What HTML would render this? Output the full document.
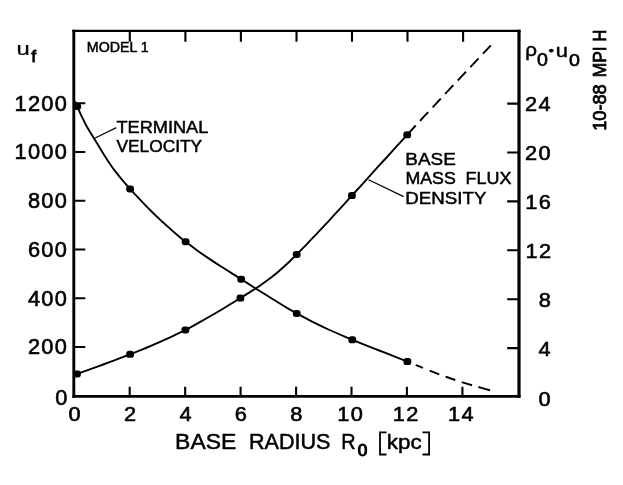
<!DOCTYPE html>
<html><head><meta charset="utf-8"><title>chart</title>
<style>
html,body{margin:0;padding:0;background:#fff;}
svg{display:block;will-change:transform;}
path{fill:none;stroke:#000;}
text{font-family:"Liberation Sans",sans-serif;fill:#000;stroke:#000;stroke-width:0.5px;vector-effect:non-scaling-stroke;stroke-linejoin:round;}
</style></head>
<body>
<svg width="623" height="485" viewBox="0 0 623 485">
<rect width="623" height="485" fill="#fff"/>
<g>
<path d="M73.8 397.65 V29.85" stroke-width="2.9"/>
<path d="M72.35 30.95 H520.5" stroke-width="2.2"/>
<path d="M519.0 29.85 V397.65" stroke-width="3.2"/>
<path d="M72.35 396.3 H520.5" stroke-width="2.7"/>
<path d="M73.8 347.0 H85.3 M519.0 348.1 H507.2 M73.8 298.3 H85.3 M519.0 299.2 H507.2 M73.8 249.5 H85.3 M519.0 250.3 H507.2 M73.8 200.8 H85.3 M519.0 201.4 H507.2 M73.8 152.0 H85.3 M519.0 152.5 H507.2 M73.8 103.2 H85.3 M519.0 103.6 H507.2 M129.7 396.3 V386.7 M129.8 30.95 V41.8 M185.2 396.3 V386.7 M185.4 30.95 V41.8 M240.6 396.3 V386.7 M240.9 30.95 V41.8 M296.1 396.3 V386.7 M296.5 30.95 V41.8 M351.5 396.3 V386.7 M352.0 30.95 V41.8 M406.9 396.3 V386.7 M407.5 30.95 V41.8 M462.4 396.3 V386.7 M463.1 30.95 V41.8" stroke-width="2.1"/>
<path d="M75.0 101.4 L80.6 114.1 L86.3 125.7 L91.9 135.0 L97.5 144.1 L103.2 153.5 L108.8 162.3 L114.4 170.2 L120.1 177.3 L125.7 184.0 L131.3 190.3 L137.0 196.4 L142.6 202.3 L148.2 208.1 L153.9 213.7 L159.5 219.1 L165.1 224.3 L170.8 229.4 L176.4 234.2 L182.0 238.9 L187.7 243.3 L193.3 247.6 L198.9 251.7 L204.6 255.6 L210.2 259.4 L215.8 263.1 L221.5 266.7 L227.1 270.3 L232.7 273.9 L238.4 277.4 L244.0 281.0 L249.7 284.6 L255.3 288.2 L260.9 291.8 L266.6 295.3 L272.2 298.8 L277.8 302.3 L283.5 305.7 L289.1 309.1 L294.7 312.3 L300.4 315.4 L306.0 318.4 L311.6 321.3 L317.3 324.1 L322.9 326.8 L328.5 329.5 L334.2 332.0 L339.8 334.5 L345.4 336.9 L351.1 339.3 L356.7 341.6 L362.3 343.9 L368.0 346.1 L373.6 348.3 L379.2 350.5 L384.9 352.7 L390.5 354.9 L396.1 357.1 L401.8 359.3 L407.4 361.6" stroke-width="1.9" stroke-linejoin="round"/>
<path d="M75.0 374.7 L80.6 372.7 L86.3 370.6 L91.9 368.6 L97.5 366.6 L103.2 364.5 L108.8 362.4 L114.4 360.3 L120.0 358.2 L125.7 356.0 L131.3 353.8 L136.9 351.6 L142.6 349.3 L148.2 347.0 L153.8 344.6 L159.5 342.2 L165.1 339.7 L170.7 337.1 L176.3 334.4 L182.0 331.6 L187.6 328.8 L193.2 325.8 L198.9 322.7 L204.5 319.5 L210.1 316.3 L215.8 313.0 L221.4 309.7 L227.0 306.3 L232.7 302.8 L238.3 299.4 L243.9 295.9 L249.5 292.4 L255.2 288.8 L260.8 285.1 L266.4 281.1 L272.1 276.8 L277.7 272.3 L283.3 267.3 L289.0 262.0 L294.6 256.5 L300.2 250.8 L305.9 245.1 L311.5 239.2 L317.1 233.3 L322.7 227.3 L328.4 221.3 L334.0 215.2 L339.6 209.1 L345.3 202.9 L350.9 196.7 L356.5 190.5 L362.2 184.3 L367.8 178.1 L373.4 171.9 L379.0 165.7 L384.7 159.5 L390.3 153.3 L395.9 147.1 L401.6 140.9 L407.2 134.8" stroke-width="1.9" stroke-linejoin="round"/>
<path d="M407.4 361.6 L411.8 363.4 L416.1 365.2 L420.5 366.9 L424.8 368.7 L429.2 370.5 L433.5 372.2 L437.9 373.8 L442.2 375.4 L446.6 377.0 L450.9 378.5 L455.3 380.0 L459.6 381.4 L464.0 382.8 L468.3 384.1 L472.7 385.4 L477.0 386.6 L481.4 387.9 L485.7 389.1 L490.1 390.3" stroke-width="1.9" stroke-dasharray="0 9 7.8 7.3 10.2 6.8 10.2 6.8 10.8 6.6 12 99"/>
<path d="M407.2 134.8 L411.6 130.0 L416.0 125.2 L420.4 120.5 L424.8 115.7 L429.2 111.0 L433.6 106.3 L438.0 101.5 L442.4 96.8 L446.8 92.1 L451.2 87.4 L455.6 82.8 L460.0 78.1 L464.4 73.4 L468.8 68.7 L473.2 64.1 L477.6 59.4 L482.0 54.7 L486.4 50.1 L490.8 45.4" stroke-width="1.9" stroke-dasharray="12.6 6.4 12 6.4 12 6.4 12 6.4 12 6.4 12 6.4 12 99"/>
<path d="M94.7 138.2 L116.3 127.6 M368.6 179.8 L403.6 196.6" stroke-width="1.2"/>
<path d="M386.5 432.3 H380 V454.5 H386.5 M422.5 432.3 H429.1 V454.5 H422.5" stroke-width="1.8"/>
</g>
<g fill="#000">
<rect x="73.3" y="102.9" width="7.8" height="7.0" rx="3.1" ry="2.9"/>
<rect x="126.2" y="185.4" width="7.8" height="7.0" rx="3.1" ry="2.9"/>
<rect x="181.7" y="238.2" width="7.8" height="7.0" rx="3.1" ry="2.9"/>
<rect x="237.3" y="275.7" width="7.8" height="7.0" rx="3.1" ry="2.9"/>
<rect x="292.8" y="309.9" width="7.8" height="7.0" rx="3.1" ry="2.9"/>
<rect x="348.4" y="336.3" width="7.8" height="7.0" rx="3.1" ry="2.9"/>
<rect x="403.5" y="358.1" width="7.8" height="7.0" rx="3.1" ry="2.9"/>
<rect x="73.1" y="370.5" width="7.8" height="7.0" rx="3.1" ry="2.9"/>
<rect x="126.2" y="350.8" width="7.8" height="7.0" rx="3.1" ry="2.9"/>
<rect x="181.5" y="326.4" width="7.8" height="7.0" rx="3.1" ry="2.9"/>
<rect x="236.5" y="294.6" width="7.8" height="7.0" rx="3.1" ry="2.9"/>
<rect x="292.8" y="250.9" width="7.8" height="7.0" rx="3.1" ry="2.9"/>
<rect x="348.0" y="192.1" width="7.8" height="7.0" rx="3.1" ry="2.9"/>
<rect x="403.3" y="131.3" width="7.8" height="7.0" rx="3.1" ry="2.9"/>
<ellipse cx="551.3" cy="50.6" rx="2.4" ry="1.9"/>
</g>
<g>
<text transform="matrix(0.109 0 0 0.10845 55.36 405)" font-size="200" letter-spacing="12.5" style="stroke-width:0.6px">0</text>
<text transform="matrix(0.109 0 0 0.10845 27.89 354)" font-size="200" letter-spacing="12.5" style="stroke-width:0.6px">200</text>
<text transform="matrix(0.109 0 0 0.10845 27.89 306)" font-size="200" letter-spacing="12.5" style="stroke-width:0.6px">400</text>
<text transform="matrix(0.109 0 0 0.10845 27.89 257)" font-size="200" letter-spacing="12.5" style="stroke-width:0.6px">600</text>
<text transform="matrix(0.109 0 0 0.10845 27.89 208)" font-size="200" letter-spacing="12.5" style="stroke-width:0.6px">800</text>
<text transform="matrix(0.109 0 0 0.10845 14.40 159)" font-size="200" letter-spacing="12.5" style="stroke-width:0.6px">1000</text>
<text transform="matrix(0.109 0 0 0.10845 14.40 111)" font-size="200" letter-spacing="12.5" style="stroke-width:0.6px">1200</text>
<text transform="matrix(0.109 0 0 0.10070 68.40 421)" font-size="200" letter-spacing="12.5" style="stroke-width:0.6px">0</text>
<text transform="matrix(0.109 0 0 0.10070 123.89 421)" font-size="200" letter-spacing="12.5" style="stroke-width:0.6px">2</text>
<text transform="matrix(0.109 0 0 0.10070 179.44 421)" font-size="200" letter-spacing="12.5" style="stroke-width:0.6px">4</text>
<text transform="matrix(0.109 0 0 0.10070 234.66 421)" font-size="200" letter-spacing="12.5" style="stroke-width:0.6px">6</text>
<text transform="matrix(0.109 0 0 0.10070 290.16 421)" font-size="200" letter-spacing="12.5" style="stroke-width:0.6px">8</text>
<text transform="matrix(0.109 0 0 0.10070 337.27 421)" font-size="200" letter-spacing="12.5" style="stroke-width:0.6px">10</text>
<text transform="matrix(0.109 0 0 0.10070 392.87 421)" font-size="200" letter-spacing="12.5" style="stroke-width:0.6px">12</text>
<text transform="matrix(0.109 0 0 0.10070 448.10 421)" font-size="200" letter-spacing="12.5" style="stroke-width:0.6px">14</text>
<text transform="matrix(0.109 0 0 0.10563 538.56 406)" font-size="200" letter-spacing="12.5" style="stroke-width:0.6px">0</text>
<text transform="matrix(0.109 0 0 0.10563 538.46 356)" font-size="200" letter-spacing="12.5" style="stroke-width:0.6px">4</text>
<text transform="matrix(0.109 0 0 0.10563 538.67 307)" font-size="200" letter-spacing="12.5" style="stroke-width:0.6px">8</text>
<text transform="matrix(0.109 0 0 0.10563 525.40 258)" font-size="200" letter-spacing="12.5" style="stroke-width:0.6px">12</text>
<text transform="matrix(0.109 0 0 0.10563 525.19 209)" font-size="200" letter-spacing="12.5" style="stroke-width:0.6px">16</text>
<text transform="matrix(0.109 0 0 0.10563 525.08 160)" font-size="200" letter-spacing="12.5" style="stroke-width:0.6px">20</text>
<text transform="matrix(0.109 0 0 0.10563 524.97 111)" font-size="200" letter-spacing="12.5" style="stroke-width:0.6px">24</text>
<text transform="matrix(0.11473 0 0 0.10652 175.11 449)" font-size="200">BASE</text>
<text transform="matrix(0.10795 0 0 0.10652 248.92 449)" font-size="200">RADIUS</text>
<text transform="matrix(0.09916 0 0 0.10652 341.36 449)" font-size="200">R</text>
<text transform="matrix(0.08646 0 0 0.08239 357.86 456)" font-size="200" style="stroke-width:1.1px">0</text>
<text transform="matrix(0.11195 0 0 0.10138 386.79 449)" font-size="200">kpc</text>
<text transform="matrix(0.07112 0 0 0.07029 86.81 52)" font-size="200">MODEL 1</text>
<text transform="matrix(0.09101 0 0 0.08478 116.39 133)" font-size="200">TERMINAL</text>
<text transform="matrix(0.08659 0 0 0.08478 116.46 152)" font-size="200">VELOCITY</text>
<text transform="matrix(0.09450 0 0 0.08261 405.34 165)" font-size="200">BASE</text>
<text transform="matrix(0.08891 0 0 0.08261 405.43 184)" font-size="200">MASS</text>
<text transform="matrix(0.08982 0 0 0.08261 465.61 184)" font-size="200">FLUX</text>
<text transform="matrix(0.09362 0 0 0.08261 405.35 204)" font-size="200">DENSITY</text>
<text transform="matrix(0.11941 0 0 0.09398 16.47 55)" font-size="200" style="stroke-width:0.25px">u</text>
<text transform="matrix(0.08868 0 0 0.08552 31.13 62)" font-size="200" style="stroke-width:0.8px">f</text>
<text transform="matrix(0.10323 0 0 0.09267 525.21 56)" font-size="200" style="stroke-width:0.5px">ρ</text>
<text transform="matrix(0.09792 0 0 0.08944 536.97 66)" font-size="200" style="stroke-width:0.7px">0</text>
<text transform="matrix(0.10941 0 0 0.09630 555.73 57)" font-size="200" style="stroke-width:0.5px">u</text>
<text transform="matrix(0.09792 0 0 0.08662 569.07 66)" font-size="200" style="stroke-width:0.7px">0</text>
<text transform="matrix(0 -0.09098 0.08841 0 606 130.86)" font-size="200" style="stroke-width:0.8px">10-88</text>
<text transform="matrix(0 -0.08692 0.08841 0 606 77.19)" font-size="200" style="stroke-width:0.8px">MPI</text>
<text transform="matrix(0 -0.08125 0.08841 0 606 41.40)" font-size="200" style="stroke-width:0.8px">H</text>
</g>
</svg>
</body></html>
